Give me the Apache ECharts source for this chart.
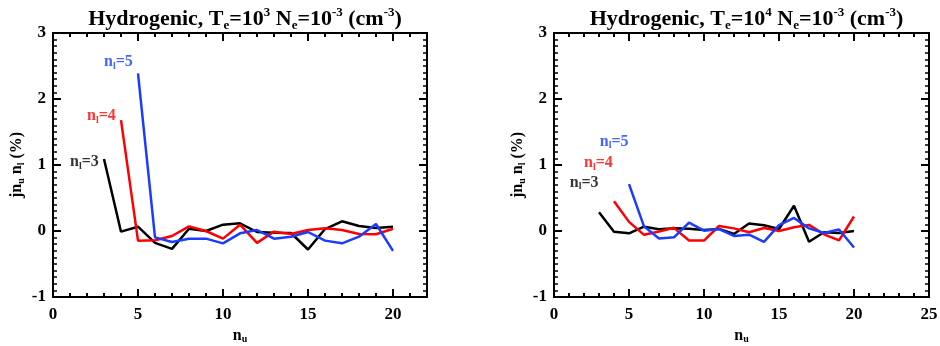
<!DOCTYPE html>
<html><head><meta charset="utf-8">
<script src="https://cdn.jsdelivr.net/npm/echarts@6/dist/echarts.min.js"></script>
<style>html,body{margin:0;padding:0;background:#fff}#c{width:940px;height:346px}</style>
</head><body><div id="c"></div>
<script>
// ---- data ----
const nu3 = [3,4,5,6,7,8,9,10,11,12,13,14,15,16,17,18,19,20];
const nu4 = [4,5,6,7,8,9,10,11,12,13,14,15,16,17,18,19,20];
const nu5 = [5,6,7,8,9,10,11,12,13,14,15,16,17,18,19,20];

const leftNl3 = [1.09,-0.01,0.065,-0.18,-0.27,0.035,0.0,0.096,0.116,-0.015,-0.025,-0.03,-0.28,0.03,0.147,0.076,0.045,0.066];
const leftNl4 = [1.68,-0.146,-0.14,-0.076,0.07,0.0,-0.116,0.096,-0.18,-0.01,-0.045,0.015,0.04,0.015,-0.045,-0.05,0.035];
const leftNl5 = [2.39,-0.096,-0.167,-0.116,-0.116,-0.187,-0.035,0.015,-0.116,-0.086,-0.015,-0.146,-0.187,-0.086,0.106,-0.3];

const rightNl3 = [0.285,-0.01,-0.035,0.065,0.028,0.04,0.035,0.015,0.032,-0.045,0.115,0.088,0.03,0.382,-0.162,-0.018,-0.03,0.0];
const rightNl4 = [0.452,0.138,-0.058,-0.008,0.048,-0.143,-0.145,0.076,0.04,-0.018,0.045,0.0,0.058,0.093,-0.05,-0.143,0.22];
const rightNl5 = [0.71,0.07,-0.115,-0.095,0.128,0.005,0.03,-0.075,-0.055,-0.165,0.088,0.198,0.04,-0.03,0.022,-0.25];

const labelNames = ['3','4','5'];
const leftLabelPos = [[1.0,1.045],[2.0,1.74],[3.0,2.56]];
const rightLabelPos = [[1.05,0.73],[2.0,1.03],[3.05,1.35]];

const xTicksMajor = 5;
const yTicks = [-1,0,1,2,3];
const leftXMax = 22, rightXMax = 25;

const titles = [
  '{b|Hydrogenic, T}{sub|e}{b|=10}{sup|3}{b| N}{sub|e}{b|=10}{sup|-3}{b| (cm}{sup|-3}{b|)}',
  '{b|Hydrogenic, T}{sub|e}{b|=10}{sup|4}{b| N}{sub|e}{b|=10}{sup|-3}{b| (cm}{sup|-3}{b|)}'
];

// ---- style ----
const FF = '"Liberation Serif","Times New Roman",serif';
const colors = ['#000000','#ff0000','#1a3cff'];
const titleRich = {
  b:{fontFamily:FF,fontWeight:'bold',fontSize:22,color:'#000',lineHeight:26,verticalAlign:'middle'},
  sub:{fontFamily:FF,fontWeight:'bold',fontSize:13,color:'#000',lineHeight:26,verticalAlign:'bottom'},
  sup:{fontFamily:FF,fontWeight:'bold',fontSize:13,color:'#000',lineHeight:26,verticalAlign:'top'}
};
function smallRich(col){
  return {
    n:{fontFamily:FF,fontWeight:'bold',fontSize:16,color:col,lineHeight:18,verticalAlign:'middle'},
    s:{fontFamily:FF,fontWeight:'bold',fontSize:10,color:col,lineHeight:18,verticalAlign:'bottom'}
  };
}
const grids = [
  {left:53, top:33, width:374, height:264, containLabel:false, outerBoundsMode:'none'},
  {left:554, top:33, width:375, height:264, containLabel:false, outerBoundsMode:'none'}
];
const axLine = {show:true, onZero:false, lineStyle:{color:'#000', width:2}};
function xAxes(g, max){
  const base = {gridIndex:g, type:'value', min:0, max:max, axisLine:axLine, splitLine:{show:false}};
  return [
    Object.assign({}, base, {position:'bottom', interval:xTicksMajor,
      axisTick:{inside:true,length:8,lineStyle:{width:2,color:'#000'}},
      axisLabel:{showMaxLabel:max%xTicksMajor===0, fontFamily:FF,fontWeight:'bold',fontSize:17,color:'#000',margin:9},
      name:'{n|n}{s|u}', nameLocation:'middle', nameGap:26,
      nameTextStyle:{rich:smallRich('#000')}
    }),
    Object.assign({}, base, {position:'bottom', interval:1,
      axisTick:{inside:true,length:4,lineStyle:{width:2,color:'#000'}}, axisLabel:{show:false}}),
    Object.assign({}, base, {position:'top', interval:xTicksMajor,
      axisTick:{inside:true,length:8,lineStyle:{width:2,color:'#000'}}, axisLabel:{show:false}}),
    Object.assign({}, base, {position:'top', interval:1,
      axisTick:{inside:true,length:4,lineStyle:{width:2,color:'#000'}}, axisLabel:{show:false}})
  ];
}
function yAxes(g){
  const base = {gridIndex:g, type:'value', min:yTicks[0], max:yTicks[yTicks.length-1], interval:1,
    axisLine:axLine, splitLine:{show:false},
    axisTick:{inside:true,length:8,lineStyle:{width:2,color:'#000'}},
    minorTick:{show:true,splitNumber:10,length:4,lineStyle:{width:1.5,color:'#000'}}};
  return [
    Object.assign({}, base, {position:'left',
      axisLabel:{fontFamily:FF,fontWeight:'bold',fontSize:17,color:'#000',margin:7},
      name:'{n|jn}{s|u}{n| n}{s|l}{n| (%)}', nameLocation:'middle', nameGap:27, nameRotate:90,
      nameTextStyle:{rich:smallRich('#000')}}),
    Object.assign({}, base, {position:'right', axisLabel:{show:false}})
  ];
}
function lineSeries(xi, yi, xs, ys, col){
  return {type:'line', xAxisIndex:xi, yAxisIndex:yi, data:xs.map((x,i)=>[x, ys[i]]),
    showSymbol:false, symbol:'none', lineStyle:{color:col,width:2.5}, itemStyle:{color:col}, animation:false, z:3};
}
function labelSeries(xi, yi, pos){
  return {type:'scatter', xAxisIndex:xi, yAxisIndex:yi, symbolSize:0, animation:false, silent:true,
    data:pos.map((p,i)=>({value:p, label:{show:true, position:'right', distance:0,
      formatter:'{n|n}{s|l}{n|='+labelNames[i]+'}', rich:smallRich(colors[i])}}))};
}
const option = {
  backgroundColor:'#fff',
  animation:false,
  title: titles.map((t,i)=>({text:t, left: grids[i].left + grids[i].width/2, textAlign:'center', top:1,
    textStyle:{rich:titleRich}})),
  grid: grids,
  xAxis: xAxes(0,leftXMax).concat(xAxes(1,rightXMax)),
  yAxis: yAxes(0).concat(yAxes(1)),
  series: [
    lineSeries(0,0,nu3,leftNl3,colors[0]),
    lineSeries(0,0,nu4,leftNl4,colors[1]),
    lineSeries(0,0,nu5,leftNl5,colors[2]),
    lineSeries(4,2,nu3,rightNl3,colors[0]),
    lineSeries(4,2,nu4,rightNl4,colors[1]),
    lineSeries(4,2,nu5,rightNl5,colors[2]),
    labelSeries(0,0,leftLabelPos),
    labelSeries(4,2,rightLabelPos)
  ]
};
const chart = echarts.init(document.getElementById('c'), null, {renderer:'canvas'});
chart.setOption(option);
</script></body></html>
